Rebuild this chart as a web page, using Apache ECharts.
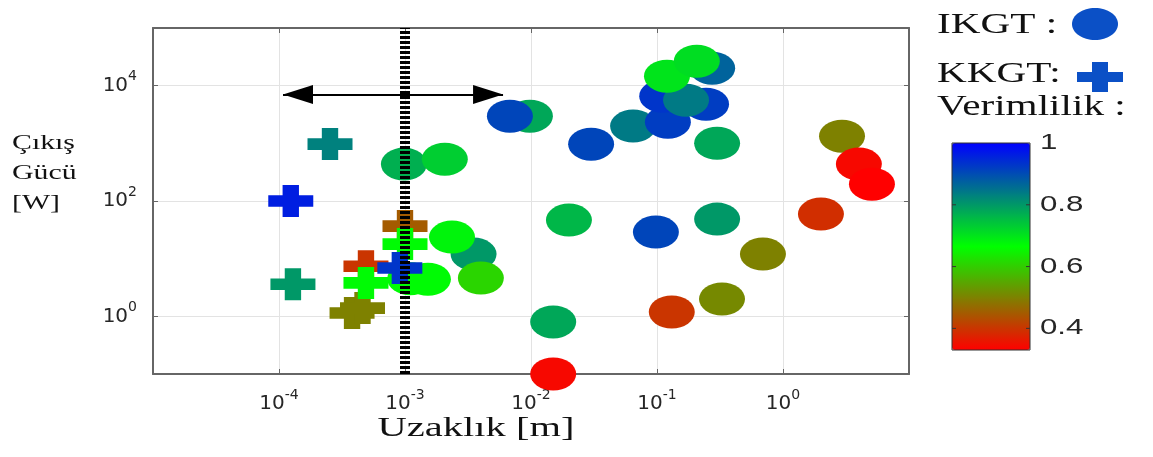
<!DOCTYPE html>
<html>
<head>
<meta charset="utf-8">
<script src="https://cdn.jsdelivr.net/npm/echarts@6/dist/echarts.min.js"></script>
<style>
  html, body { margin: 0; padding: 0; background: #fff; }
  #chart { width: 1153px; height: 457px; }
</style>
</head>
<body>
<div id="chart"></div>
<script>
// IKGT devices (circles): distance [m], output power [W], efficiency
const ikgtDistance = [9.8e-4, 2.07e-3, 9.8e-3, 6.8e-3, 0.030, 0.0646, 0.122, 0.110, 0.245, 0.170,
  0.274, 0.120, 0.207, 0.30, 0.020, 0.098, 0.30, 0.693, 0.328, 0.131,
  0.015, 0.015, 2.94, 4.0, 5.08, 2.0, 1.1e-3, 1.52e-3, 3.5e-3, 2.36e-3, 4.0e-3];
const ikgtPower = [436, 532, 2960, 2960, 968, 1990, 2330, 6580, 4780, 5610,
  20100, 14600, 26600, 1000, 46.7, 28.9, 48.5, 12.0, 2.0, 1.19,
  0.80, 0.10, 1333, 437, 196, 59.3, 4.5, 4.4, 12.0, 23.7, 4.6];
const ikgtEfficiency = [0.77, 0.73, 0.78, 0.91, 0.91, 0.84, 0.92, 0.93, 0.92, 0.84,
  0.87, 0.70, 0.71, 0.78, 0.76, 0.91, 0.80, 0.50, 0.51, 0.40,
  0.78, 0.34, 0.50, 0.34, 0.33, 0.39, 0.67, 0.67, 0.80, 0.68, 0.61];

// KKGT devices (crosses)
const kkgtDistance = [2.54e-4, 1.24e-4, 1.29e-4, 3.8e-4, 4.6e-4, 4.9e-4, 4.9e-4, 1.0e-3, 1.0e-3, 9.1e-4];
const kkgtPower = [970, 100, 3.6, 1.14, 1.39, 7.4, 3.8, 36.7, 17.9, 6.9];
const kkgtEfficiency = [0.83, 0.96, 0.80, 0.50, 0.50, 0.40, 0.67, 0.45, 0.67, 0.93];

// near-field / far-field boundary and the span arrow
const boundaryDistance = 1e-3;
const arrowDistance = [1.076e-4, 6.0e-3];
const arrowPower = 7030;

// axis ranges and labelled decades
const xRange = [1e-5, 10];
const yRange = [0.1, 1e5];
const xLabelExponents = [-4, -3, -2, -1, 0];
const yLabelExponents = [0, 2, 4];

// efficiency colour scale
const effRange = [0.33, 1.0];
const effColors = ['#ff0000', '#00ff00', '#0000ff'];
const colorbarTicks = [1, 0.8, 0.6, 0.4];
const colorbarTickLabels = ['1', '0.8', '0.6', '0.4'];

const ikgtData = ikgtDistance.map((d, i) => [d, ikgtPower[i], ikgtEfficiency[i]]);
const kkgtData = kkgtDistance.map((d, i) => [d, kkgtPower[i], kkgtEfficiency[i]]);

const ELLIPSE = 'path://M0,1A1,1 0 1,1 2,1A1,1 0 1,1 0,1Z';
const PLUS = 'path://M3.5,0H7.5V3.5H11V7.5H7.5V11H3.5V7.5H0V3.5H3.5Z';

const AXIS_COLOR = '#666';
const LABEL_COLOR = '#262626';
const SANS = 'DejaVu Sans';
const SERIF = 'Liberation Serif';

function decadeLabel(allowed) {
  return function (v) {
    const l = Math.log10(v);
    const e = Math.round(l);
    if (Math.abs(l - e) > 1e-6 || allowed.indexOf(e) < 0) return '';
    return '{b|10}{s|' + e + '}';
  };
}
const richLabel = {
  b: { fontSize: 20, fontFamily: SANS, color: LABEL_COLOR },
  s: { fontSize: 14, fontFamily: SANS, color: LABEL_COLOR, padding: [0, 0, 18, 0] }
};

// colorbar geometry
const bar = { left: 952, top: 143, width: 78, height: 207 };
const effToY = v => bar.top + (effRange[1] - v) / (effRange[1] - effRange[0]) * bar.height;

const graphics = [];
// y axis title
graphics.push({
  type: 'text', x: 12, y: 128, scaleX: 1.42,
  style: { text: 'Çıkış\nGücü\n[W]', font: '21px "' + SERIF + '"', lineHeight: 30, fill: '#111' }
});
// x axis title
graphics.push({
  type: 'text', x: 476, y: 429, scaleX: 1.5,
  style: { text: 'Uzaklık [m]', font: '27px "' + SERIF + '"', fill: '#111', textAlign: 'center', textVerticalAlign: 'middle' }
});
// key: marker shapes and efficiency title
graphics.push({
  type: 'text', x: 937, y: 25, scaleX: 1.42,
  style: { text: 'IKGT :', font: '29px "' + SERIF + '"', fill: '#111', textVerticalAlign: 'middle' }
});
graphics.push({
  type: 'ellipse', shape: { cx: 1095, cy: 24, rx: 23, ry: 16 }, style: { fill: '#0b50c6' }
});
graphics.push({
  type: 'text', x: 937, y: 74, scaleX: 1.42,
  style: { text: 'KKGT:', font: '29px "' + SERIF + '"', fill: '#111', textVerticalAlign: 'middle' }
});
graphics.push({
  type: 'polygon',
  shape: { points: [[1092, 62], [1108, 62], [1108, 72], [1123, 72], [1123, 82], [1108, 82], [1108, 92], [1092, 92], [1092, 82], [1077, 82], [1077, 72], [1092, 72]] },
  style: { fill: '#0b50c6' }
});
graphics.push({
  type: 'text', x: 937, y: 107, scaleX: 1.42,
  style: { text: 'Verimlilik :', font: '29px "' + SERIF + '"', fill: '#111', textVerticalAlign: 'middle' }
});
// colorbar outline, ticks and labels
graphics.push({
  type: 'rect', z: 100,
  shape: { x: bar.left, y: bar.top, width: bar.width, height: bar.height },
  style: { fill: 'none', stroke: '#333', lineWidth: 1 }
});
colorbarTicks.forEach((v, i) => {
  const y = effToY(v);
  graphics.push({
    type: 'text', x: 1040, y: y, scaleX: 1.42,
    style: { text: colorbarTickLabels[i], font: '22px "Liberation Sans"', fill: LABEL_COLOR, textVerticalAlign: 'middle' }
  });
  if (v < effRange[1]) {
    graphics.push({ type: 'line', z: 100, shape: { x1: bar.left, y1: y, x2: bar.left + 4, y2: y }, style: { stroke: '#333', lineWidth: 1 } });
    graphics.push({ type: 'line', z: 100, shape: { x1: bar.left + bar.width - 4, y1: y, x2: bar.left + bar.width, y2: y }, style: { stroke: '#333', lineWidth: 1 } });
  }
});

const axisLineStyle = { show: true, onZero: false, lineStyle: { color: AXIS_COLOR, width: 2 } };
const tickStyle = { show: true, inside: true, length: 5, lineStyle: { color: AXIS_COLOR, width: 1 } };
const gridLine = { show: true, lineStyle: { color: '#e3e3e3', width: 1 } };

const option = {
  animation: false,
  backgroundColor: '#fff',
  grid: { left: 153, top: 28, width: 756, height: 346, containLabel: false },
  xAxis: [
    {
      type: 'log', logBase: 10, min: xRange[0], max: xRange[1], position: 'bottom',
      axisLine: axisLineStyle, axisTick: tickStyle, splitLine: gridLine,
      axisLabel: { formatter: decadeLabel(xLabelExponents), rich: richLabel, margin: 14 }
    },
    {
      type: 'log', logBase: 10, min: xRange[0], max: xRange[1], position: 'top',
      axisLine: axisLineStyle, axisTick: tickStyle, splitLine: { show: false }, axisLabel: { show: false }
    }
  ],
  yAxis: [
    {
      type: 'log', logBase: 100, min: yRange[0], max: yRange[1], position: 'left',
      axisLine: axisLineStyle, axisTick: tickStyle, splitLine: gridLine,
      axisLabel: { formatter: decadeLabel(yLabelExponents), rich: richLabel, margin: 16 }
    },
    {
      type: 'log', logBase: 100, min: yRange[0], max: yRange[1], position: 'right',
      axisLine: axisLineStyle, axisTick: tickStyle, splitLine: { show: false }, axisLabel: { show: false }
    }
  ],
  visualMap: {
    type: 'continuous', min: effRange[0], max: effRange[1], dimension: 2, seriesIndex: [0, 1],
    inRange: { color: effColors },
    orient: 'vertical', left: bar.left, top: bar.top, itemWidth: bar.width, itemHeight: bar.height,
    padding: 0, calculable: false, hoverLink: false, realtime: false, showLabel: false
  },
  series: [
    {
      name: 'IKGT', type: 'scatter', data: ikgtData, xAxisIndex: 0, yAxisIndex: 0,
      symbol: ELLIPSE, symbolSize: [46, 33], clip: false, z: 3,
      itemStyle: { opacity: 1 }, emphasis: { disabled: true }
    },
    {
      name: 'KKGT', type: 'scatter', data: kkgtData, xAxisIndex: 0, yAxisIndex: 0,
      symbol: PLUS, symbolSize: [45, 32], clip: false, z: 4,
      itemStyle: { opacity: 1 }, emphasis: { disabled: true }
    },
    {
      name: 'boundary', type: 'line', xAxisIndex: 0, yAxisIndex: 0, z: 6, silent: true,
      data: [[boundaryDistance, yRange[0]], [boundaryDistance, yRange[1]]],
      showSymbol: false, symbol: 'none',
      lineStyle: { color: '#000', width: 10, type: [3, 2], cap: 'butt' },
      markLine: {
        silent: true, symbol: ['triangle', 'triangle'], symbolSize: [19, 30],
        symbolOffset: [[0, 15], [0, 15]],
        label: { show: false },
        lineStyle: { color: '#000', width: 2, type: 'solid' },
        emphasis: { disabled: true },
        data: [[{ coord: [arrowDistance[0], arrowPower] }, { coord: [arrowDistance[1], arrowPower] }]]
      }
    }
  ],
  graphic: graphics
};

const chart = echarts.init(document.getElementById('chart'), null, { renderer: 'canvas' });
chart.setOption(option);
</script>
</body>
</html>
